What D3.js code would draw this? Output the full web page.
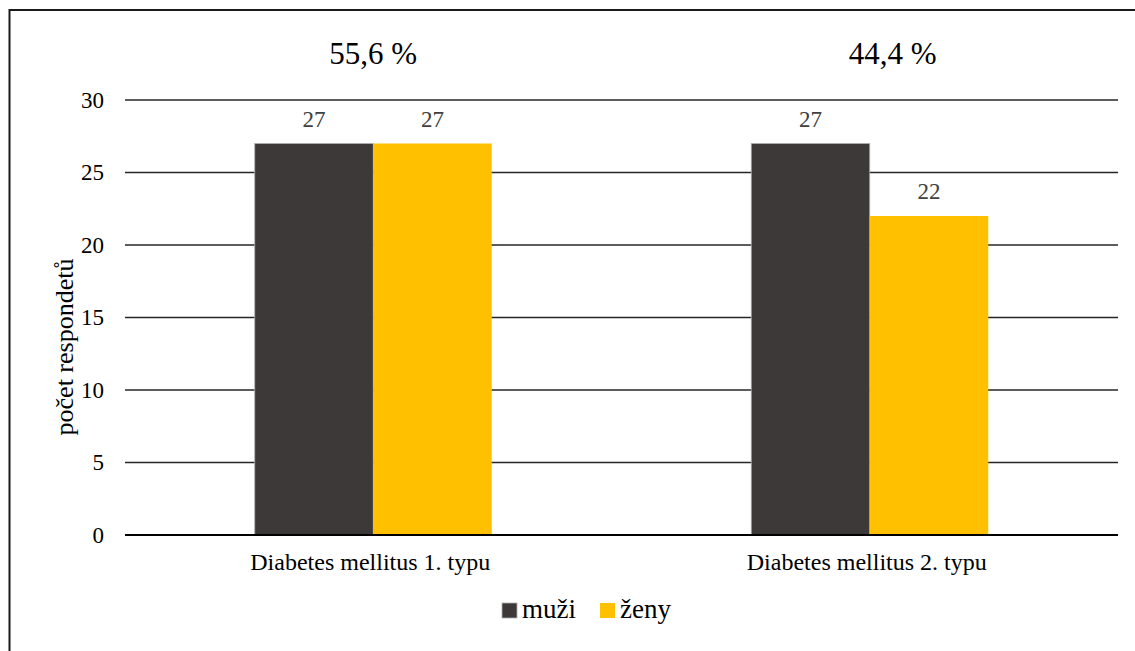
<!DOCTYPE html>
<html>
<head>
<meta charset="utf-8">
<script src="https://cdn.jsdelivr.net/npm/d3@7"></script>
<style>
  html, body { margin: 0; padding: 0; background: #fff; }
  svg { display: block; }
  svg text { font-family: 'Liberation Serif', 'Times New Roman', serif; }
</style>
</head>
<body>
<svg id="chart" width="1135" height="651"></svg>
<script>
// Respondents by diabetes type and sex
const categories = ["Diabetes mellitus 1. typu", "Diabetes mellitus 2. typu"];
const seriesNames = ["muži", "ženy"];
const muzi = [27, 27];
const zeny = [27, 22];
const shareLabels = ["55,6 %", "44,4 %"];
const yTicks = [0, 5, 10, 15, 20, 25, 30];
const colors = ["#3d3938", "#ffc000"];

const serif = "'Liberation Serif', 'Times New Roman', serif";
const svg = d3.select("#chart");
const W = 1135, H = 651;
const margin = { left: 125, right: 17, top: 100, bottom: 116 };
const plotW = W - margin.left - margin.right;
const plotH = H - margin.top - margin.bottom;

// outer frame (continues past the right and bottom edges)
svg.append("rect")
  .attr("x", 9.5).attr("y", 10)
  .attr("width", W + 20).attr("height", H + 20)
  .attr("fill", "none").attr("stroke", "#1a1a1a").attr("stroke-width", 2);

const g = svg.append("g").attr("transform", `translate(${margin.left},${margin.top})`);

const x0 = d3.scaleBand().domain(categories).range([0, plotW]).paddingInner(0).paddingOuter(0);
const x1 = d3.scaleBand().domain(seriesNames).range([0, x0.bandwidth()]).paddingInner(0).paddingOuter(1.095);
const y = d3.scaleLinear().domain([0, 30]).range([plotH, 0]);

// horizontal grid
g.append("g").selectAll("line")
  .data(yTicks.filter(d => d > 0))
  .join("line")
  .attr("x1", 0).attr("x2", plotW)
  .attr("y1", d => y(d)).attr("y2", d => y(d))
  .attr("stroke", "#262626").attr("stroke-width", 1.4);

// y axis labels
const yAxis = g.append("g")
  .call(d3.axisLeft(y).tickValues(yTicks).tickSize(0).tickPadding(21).tickFormat(d3.format("d")));
yAxis.attr("font-family", null).attr("font-size", null);
yAxis.select(".domain").remove();
yAxis.selectAll("text")
  .style("font-family", serif)
  .style("font-size", "23px").attr("fill", "#000");

// bars
const rows = categories.map((c, i) => ({ cat: c, values: [muzi[i], zeny[i]] }));
const grp = g.selectAll(".grp").data(rows).join("g")
  .attr("class", "grp")
  .attr("transform", d => `translate(${x0(d.cat)},0)`);

grp.selectAll("rect")
  .data(d => d.values.map((v, j) => ({ s: seriesNames[j], v, j })))
  .join("rect")
  .attr("x", d => x1(d.s))
  .attr("y", d => y(d.v))
  .attr("width", x1.bandwidth())
  .attr("height", d => plotH - y(d.v))
  .attr("fill", d => colors[d.j])
  .attr("stroke", d => d.j === 0 ? "#b0b0b0" : "none")
  .attr("stroke-width", 0.8);

// value labels
grp.selectAll("text.val")
  .data(d => d.values.map((v, j) => ({ s: seriesNames[j], v, j })))
  .join("text")
  .attr("class", "val")
  .attr("x", d => x1(d.s) + x1.bandwidth() / 2)
  .attr("y", d => y(d.v) - 17)
  .attr("text-anchor", "middle")
  .style("font-family", serif)
  .style("font-size", "23px").attr("fill", "#404040")
  .text(d => d.v);

// share of respondents per type
g.selectAll("text.share").data(categories).join("text")
  .attr("class", "share")
  .attr("x", (d, i) => x0(d) + x0.bandwidth() / 2 + (i === 1 ? 23 : 0))
  .attr("y", -36)
  .attr("text-anchor", "middle")
  .style("font-family", serif)
  .style("font-size", "31px").attr("fill", "#000")
  .text((d, i) => shareLabels[i]);

// baseline
g.append("line")
  .attr("x1", 0).attr("x2", plotW)
  .attr("y1", y(0)).attr("y2", y(0))
  .attr("stroke", "#000").attr("stroke-width", 2.2);

// category labels
g.selectAll("text.cat").data(categories).join("text")
  .attr("class", "cat")
  .attr("x", d => x0(d) + x0.bandwidth() / 2 - 3)
  .attr("y", plotH + 35)
  .attr("text-anchor", "middle")
  .style("font-family", serif)
  .style("font-size", "24px").attr("fill", "#000")
  .text(d => d);

// y axis title
svg.append("text")
  .attr("transform", `translate(73,347) rotate(-90)`)
  .attr("text-anchor", "middle")
  .style("font-family", serif)
  .style("font-size", "26px").attr("fill", "#000")
  .text("počet respondetů");

// legend
const legend = svg.append("g").attr("transform", "translate(502,603)");
const items = legend.selectAll("g").data(seriesNames).join("g")
  .attr("transform", (d, i) => `translate(${i * 98},0)`);
items.append("rect")
  .attr("width", 15).attr("height", 15)
  .attr("fill", (d, i) => colors[i])
  .attr("stroke", (d, i) => i === 0 ? "#b0b0b0" : "none")
  .attr("stroke-width", 0.8);
items.append("text")
  .attr("x", 20).attr("y", 15)
  .style("font-family", serif)
  .style("font-size", "27px").attr("fill", "#000")
  .text(d => d);
</script>
</body>
</html>
